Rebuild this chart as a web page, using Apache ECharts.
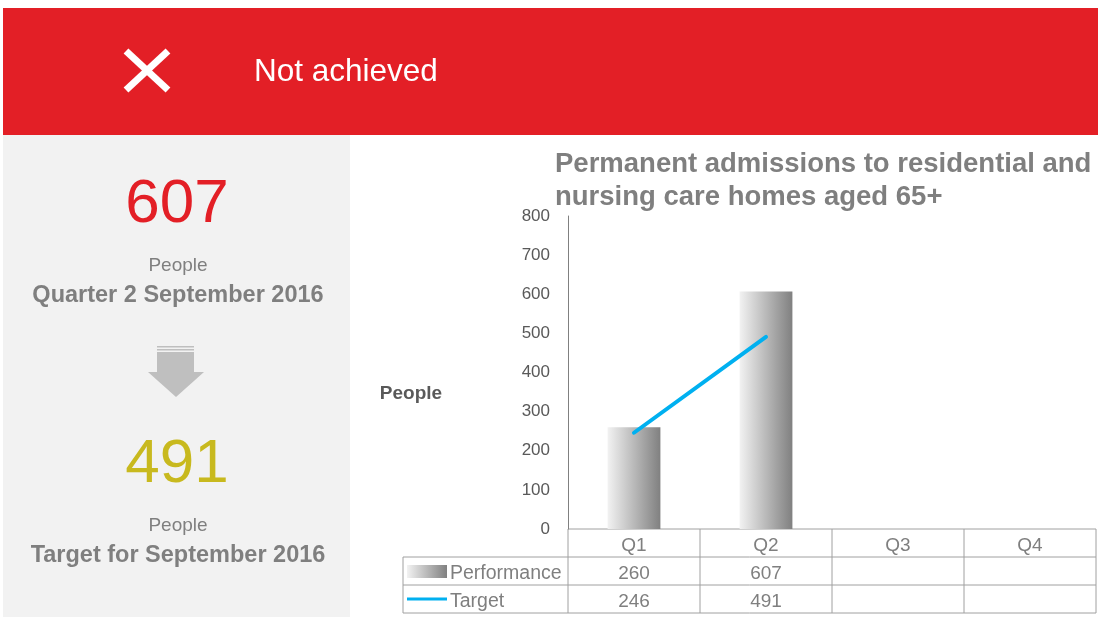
<!DOCTYPE html>
<html>
<head>
    <meta charset="utf-8">
    <title>Permanent admissions</title>
    <script src="https://cdn.jsdelivr.net/npm/echarts@6/dist/echarts.min.js"></script>
    <style>
        html, body { margin: 0; padding: 0; background: #ffffff; }
        #main { width: 1098px; height: 617px; }
    </style>
</head>
<body>
    <div id="main"></div>
    <script type="text/javascript">
        // data
        const quarters = ['Q1', 'Q2', 'Q3', 'Q4'];
        const performance = [260, 607, null, null];
        const target = [246, 491, null, null];
        const yTicks = [0, 100, 200, 300, 400, 500, 600, 700, 800];
        const headline = { value: 607, unit: 'People', caption: 'Quarter 2 September 2016' };
        const goal = { value: 491, unit: 'People', caption: 'Target for September 2016' };

        const FONT = '"Liberation Sans", Arial, sans-serif';
        const GREY = '#7f7f7f';
        const TXT = '#595959';
        const LINE = '#a0a0a0';

        // plot box
        const plotL = 568, plotR = 1096, plotT = 216, plotB = 529;
        const colW = (plotR - plotL) / quarters.length;
        const rowH = 28;
        const tableL = 403;
        const txtDy = 2.5; // table text sits a little low in its cells

        const chart = echarts.init(document.getElementById('main'), null, { renderer: 'canvas' });

        const barGrad = new echarts.graphic.LinearGradient(0, 0, 1, 0, [
            { offset: 0, color: '#f2f2f2' },
            { offset: 1, color: '#808080' }
        ]);

        const g = [];
        // red banner
        g.push({ type: 'rect', shape: { x: 3, y: 8, width: 1095, height: 127 }, style: { fill: '#e31f26' } });
        g.push({ type: 'line', shape: { x1: 126, y1: 51, x2: 168, y2: 90 }, style: { stroke: '#fff', lineWidth: 7 } });
        g.push({ type: 'line', shape: { x1: 168, y1: 51, x2: 126, y2: 90 }, style: { stroke: '#fff', lineWidth: 7 } });
        g.push({ type: 'text', x: 254, y: 72, style: { text: 'Not achieved', fill: '#fff', font: '31.5px ' + FONT, textVerticalAlign: 'middle' } });

        // left panel
        g.push({ type: 'rect', shape: { x: 3, y: 135, width: 347, height: 482 }, style: { fill: '#f2f2f2' } });
        function kpi(obj, y, color) {
            g.push({ type: 'text', x: 177, y: y, style: { text: String(obj.value), fill: color, font: '62px ' + FONT, textAlign: 'center', textVerticalAlign: 'middle' } });
            g.push({ type: 'text', x: 178, y: y + 61, style: { text: obj.unit, fill: GREY, font: '19px ' + FONT, textAlign: 'center', textVerticalAlign: 'middle' } });
            g.push({ type: 'text', x: 178, y: y + 91, style: { text: obj.caption, fill: GREY, font: 'bold 23.5px ' + FONT, textAlign: 'center', textVerticalAlign: 'middle' } });
        }
        kpi(headline, 205, '#e31f26');
        kpi(goal, 465, '#c8b91e');

        // arrow
        g.push({ type: 'rect', shape: { x: 157, y: 346, width: 37, height: 1.5 }, style: { fill: '#bfbfbf' } });
        g.push({ type: 'rect', shape: { x: 157, y: 349, width: 37, height: 1.5 }, style: { fill: '#bfbfbf' } });
        g.push({ type: 'rect', shape: { x: 157, y: 352, width: 37, height: 21 }, style: { fill: '#bfbfbf' } });
        g.push({ type: 'polygon', shape: { points: [[148, 372], [204, 372], [176, 397]] }, style: { fill: '#bfbfbf' } });

        // y axis name
        g.push({ type: 'text', x: 411, y: 394, style: { text: 'People', fill: TXT, font: 'bold 19px ' + FONT, textAlign: 'center', textVerticalAlign: 'middle' } });

        // data table
        const lineStyle = { stroke: LINE, lineWidth: 1 };
        g.push({ type: 'line', shape: { x1: plotL, y1: plotB, x2: plotR, y2: plotB }, style: lineStyle });
        for (let r = 1; r <= 3; r++) {
            g.push({ type: 'line', shape: { x1: tableL, y1: plotB + r * rowH, x2: plotR, y2: plotB + r * rowH }, style: lineStyle });
        }
        g.push({ type: 'line', shape: { x1: tableL, y1: plotB + rowH, x2: tableL, y2: plotB + 3 * rowH }, style: lineStyle });
        for (let c = 0; c <= quarters.length; c++) {
            g.push({ type: 'line', shape: { x1: plotL + c * colW, y1: plotB, x2: plotL + c * colW, y2: plotB + 3 * rowH }, style: lineStyle });
        }
        // row legends
        g.push({ type: 'rect', shape: { x: 407, y: 565, width: 40, height: 13 }, style: { fill: barGrad } });
        g.push({ type: 'text', x: 450, y: plotB + 1.5 * rowH + txtDy, style: { text: 'Performance', fill: GREY, font: '19.5px ' + FONT, textVerticalAlign: 'middle' } });
        g.push({ type: 'line', shape: { x1: 407, y1: 599, x2: 447, y2: 599 }, style: { stroke: '#00b0f0', lineWidth: 3 } });
        g.push({ type: 'text', x: 450, y: plotB + 2.5 * rowH + txtDy, style: { text: 'Target', fill: GREY, font: '19.5px ' + FONT, textVerticalAlign: 'middle' } });
        quarters.forEach(function (q, i) {
            const cx = plotL + (i + 0.5) * colW;
            g.push({ type: 'text', x: cx, y: plotB + 0.5 * rowH + txtDy, style: { text: q, fill: GREY, font: '19px ' + FONT, textAlign: 'center', textVerticalAlign: 'middle' } });
            if (performance[i] != null) {
                g.push({ type: 'text', x: cx, y: plotB + 1.5 * rowH + txtDy, style: { text: String(performance[i]), fill: GREY, font: '19px ' + FONT, textAlign: 'center', textVerticalAlign: 'middle' } });
            }
            if (target[i] != null) {
                g.push({ type: 'text', x: cx, y: plotB + 2.5 * rowH + txtDy, style: { text: String(target[i]), fill: GREY, font: '19px ' + FONT, textAlign: 'center', textVerticalAlign: 'middle' } });
            }
        });

        const option = {
            backgroundColor: '#ffffff',
            animation: false,
            title: {
                text: 'Permanent admissions to residential and\nnursing care homes aged 65+',
                left: 555,
                top: 148,
                padding: 0,
                textStyle: { color: GREY, fontFamily: FONT, fontSize: 27.5, fontWeight: 'bold', lineHeight: 33 }
            },
            grid: { left: plotL, right: 1098 - plotR, top: plotT, bottom: 617 - plotB, containLabel: false },
            xAxis: {
                type: 'category',
                data: quarters,
                axisLine: { show: false },
                axisTick: { show: false },
                axisLabel: { show: false },
                splitLine: { show: false }
            },
            yAxis: {
                type: 'value',
                min: yTicks[0],
                max: yTicks[yTicks.length - 1],
                interval: 100,
                axisLine: { show: true, lineStyle: { color: '#808080', width: 1 } },
                axisTick: { show: false },
                splitLine: { show: false },
                axisLabel: { color: TXT, fontFamily: FONT, fontSize: 17, margin: 18 }
            },
            series: [
                {
                    name: 'Performance',
                    type: 'bar',
                    data: performance,
                    barWidth: '40%',
                    itemStyle: { color: barGrad }
                },
                {
                    name: 'Target',
                    type: 'line',
                    data: target,
                    showSymbol: false,
                    symbol: 'none',
                    lineStyle: { color: '#00b0f0', width: 4, cap: 'round' },
                    z: 3
                }
            ],
            graphic: g
        };
        chart.setOption(option);
    </script>
</body>
</html>
